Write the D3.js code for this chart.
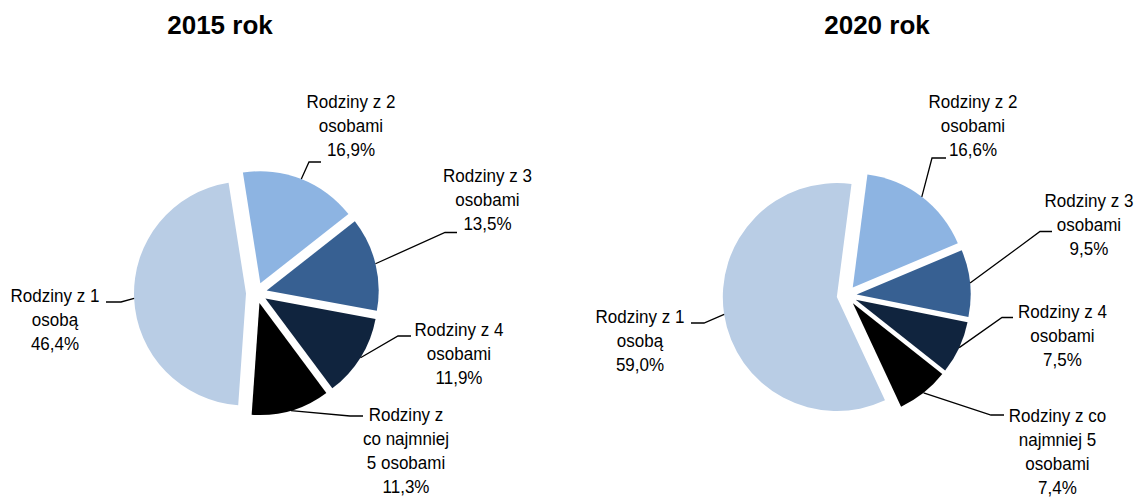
<!DOCTYPE html>
<html>
<head>
<meta charset="utf-8">
<script src="https://cdn.jsdelivr.net/npm/d3@7"></script>
<style>
  body { margin: 0; background: #fff; }
  text { font-family: "Liberation Sans", Arial, sans-serif; fill: #000; }
  .title { font-size: 26px; font-weight: bold; }
  .label { font-size: 18.5px; }
  .leader { fill: none; stroke: #000; stroke-width: 1.3; }
</style>
</head>
<body>
<div id="chart"></div>
<script>
  // data
  const categories = [
    "Rodziny z 1 osobą",
    "Rodziny z 2 osobami",
    "Rodziny z 3 osobami",
    "Rodziny z 4 osobami",
    "Rodziny z co najmniej 5 osobami"
  ];
  const years = ["2015 rok", "2020 rok"];
  const values2015 = [46.4, 16.9, 13.5, 11.9, 11.3];
  const values2020 = [59.0, 16.6, 9.5, 7.5, 7.4];
  // how the category names are wrapped in each chart
  const lines2015 = [
    ["Rodziny z 1", "osobą"],
    ["Rodziny z 2", "osobami"],
    ["Rodziny z 3", "osobami"],
    ["Rodziny z 4", "osobami"],
    ["Rodziny z", "co najmniej", "5 osobami"]
  ];
  const lines2020 = [
    ["Rodziny z 1", "osobą"],
    ["Rodziny z 2", "osobami"],
    ["Rodziny z 3", "osobami"],
    ["Rodziny z 4", "osobami"],
    ["Rodziny z co", "najmniej 5", "osobami"]
  ];
  const colors = ["#B9CDE5", "#8DB4E2", "#376092", "#10243E", "#000000"];

  const width = 1137, height = 499;
  const lineGap = 24;
  const narrow = 0.92; // labels use a slightly condensed face

  // layout of each pie and its labels
  const charts = [
    {
      title: years[0], values: values2015, lines: lines2015,
      titleX: 220, cx: 256.5, cy: 293, r: 112, explode: 10.5, start: 184,
      labels: [
        { x: 55, y: 302.5, ex: 121, ey: 302, hx: 106 },
        { x: 351, y: 108.5, ex: 309, ey: 162, hx: 321 },
        { x: 487.5, y: 182.5, ex: 445, ey: 232.5, hx: 457 },
        { x: 459, y: 336, ex: 398, ey: 336, hx: 411 },
        { x: 406, y: 421, ex: 350, ey: 416, hx: 363 }
      ]
    },
    {
      title: years[1], values: values2020, lines: lines2020,
      titleX: 877, cx: 846.7, cy: 295.5, r: 114, explode: 10, start: 155,
      labels: [
        { x: 640, y: 323.5, ex: 704, ey: 323, hx: 691 },
        { x: 973, y: 108, ex: 932, ey: 158, hx: 946 },
        { x: 1089, y: 207, ex: 1040, ey: 231.5, hx: 1052 },
        { x: 1062.5, y: 318.5, ex: 1002, ey: 317.5, hx: 1013 },
        { x: 1057.5, y: 422, ex: 991, ey: 415, hx: 1004 }
      ]
    }
  ];

  const pl = d3.formatLocale({ decimal: ",", thousands: " ", grouping: [3], currency: ["", " zł"] });
  const pct = v => pl.format(".1f")(v) + "%";

  const svg = d3.select("#chart")
    .append("svg")
    .attr("width", width)
    .attr("height", height);

  charts.forEach(c => {
    const a0 = c.start * Math.PI / 180;
    const pie = d3.pie().sort(null).value(d => d)
      .startAngle(a0).endAngle(a0 + 2 * Math.PI);
    const arcs = pie(c.values);
    const arc = d3.arc().innerRadius(0).outerRadius(c.r);

    svg.append("text")
      .attr("class", "title")
      .attr("x", c.titleX)
      .attr("y", 34)
      .attr("text-anchor", "middle")
      .text(c.title);

    const g = svg.append("g").attr("transform", `translate(${c.cx},${c.cy})`);

    g.selectAll("path.slice")
      .data(arcs)
      .join("path")
      .attr("class", "slice")
      .attr("fill", (d, i) => colors[i])
      .attr("transform", d => {
        const m = (d.startAngle + d.endAngle) / 2;
        return `translate(${Math.sin(m) * c.explode},${-Math.cos(m) * c.explode})`;
      })
      .attr("d", arc);

    // leader lines
    const line = d3.line();
    svg.selectAll(null)
      .data(arcs)
      .join("path")
      .attr("class", "leader")
      .attr("d", (d, i) => {
        const m = (d.startAngle + d.endAngle) / 2;
        const rr = c.r + c.explode;
        const L = c.labels[i];
        return line([
          [c.cx + Math.sin(m) * rr, c.cy - Math.cos(m) * rr],
          [L.ex, L.ey],
          [L.hx, L.ey]
        ]);
      });

    // labels
    arcs.forEach((d, i) => {
      const L = c.labels[i];
      const rows = c.lines[i].concat([pct(d.data)]);
      const t = svg.append("g")
        .attr("transform", `translate(${L.x},0) scale(${narrow},1)`)
        .append("text")
        .attr("class", "label")
        .attr("text-anchor", "middle")
        .attr("x", 0)
        .attr("y", L.y);
      t.append("title").text(categories[i]);
      rows.forEach((s, k) => {
        t.append("tspan")
          .attr("x", 0)
          .attr("y", L.y + k * lineGap)
          .text(s);
      });
    });
  });
</script>
</body>
</html>
